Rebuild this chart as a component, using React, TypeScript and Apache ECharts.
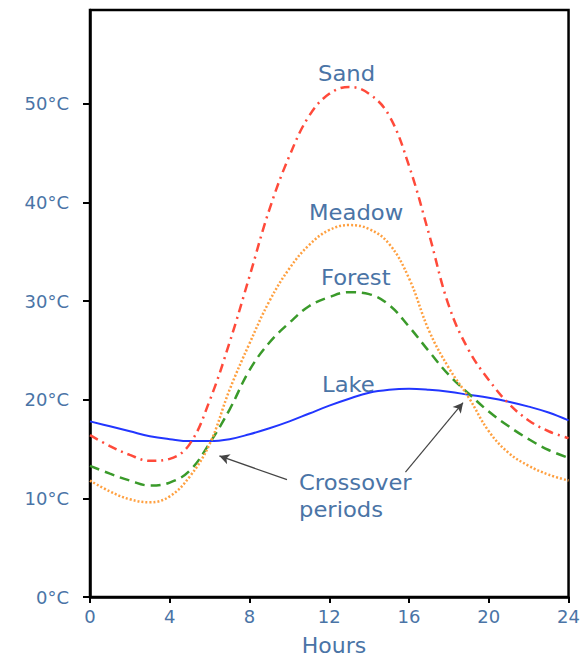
import React, { useEffect, useRef } from "react";
import * as echarts from "echarts";

const hours = [0, 1, 2, 3, 4, 5, 6, 7, 8, 9, 10, 11, 12, 13, 14, 15, 16, 17, 18, 19, 20, 21, 22, 23, 24];
const sand = [16.4, 15.3, 14.4, 13.8, 14.0, 15.5, 19.9, 25.8, 32.5, 39.3, 44.7, 48.8, 51.0, 51.7, 51.0, 48.8, 43.7, 36.8, 29.5, 25.0, 22.0, 19.6, 17.9, 16.8, 16.1];
const meadow = [11.8, 10.7, 9.9, 9.6, 10.2, 12.2, 15.5, 21.0, 25.7, 30.0, 33.3, 35.7, 37.2, 37.7, 37.3, 35.8, 32.3, 27.0, 23.2, 20.2, 16.8, 14.6, 13.3, 12.4, 11.8];
const forest = [13.3, 12.5, 11.8, 11.3, 11.6, 12.8, 15.6, 19.0, 23.0, 25.8, 27.8, 29.5, 30.4, 30.9, 30.7, 29.6, 27.4, 24.9, 22.5, 20.6, 18.8, 17.3, 16.0, 14.9, 14.1];
const lake = [17.8, 17.3, 16.8, 16.3, 16.0, 15.8, 15.8, 16.0, 16.5, 17.1, 17.8, 18.6, 19.4, 20.1, 20.7, 21.0, 21.1, 21.0, 20.8, 20.5, 20.2, 19.8, 19.3, 18.7, 17.9];
const yTicks = [0, 10, 20, 30, 40, 50];
const xTicks = [0, 4, 8, 12, 16, 20, 24];
// arrow annotations: [startHour, startTemp, tipHour, tipTemp]
const arrows = [
  [9.88, 11.9, 6.49, 14.3],
  [15.82, 12.65, 18.71, 19.7],
];

const FONT = "DejaVu Sans";
const LABEL = "#4a74a6";

const pairs = (ys: number[]) => hours.map((h, i) => [h, ys[i]]);

export default function App() {
  const ref = useRef<HTMLDivElement>(null);
  useEffect(() => {
    if (!ref.current) return;
    const chart = echarts.init(ref.current, null, { renderer: "svg" });
    const txt = (text: string, x: number, y: number) => ({
      type: "text",
      x,
      y,
      scaleX: 1.08,
      style: { text, fill: LABEL, font: `21px ${FONT}`, lineHeight: 27 },
    });
    chart.setOption({
      animation: false,
      backgroundColor: "#fff",
      grid: {
        left: 90,
        right: 11,
        top: 10,
        bottom: 59,
        show: true,
        borderColor: "#000",
        borderWidth: 2.5,
        containLabel: false,
      },
      xAxis: {
        type: "value",
        min: 0,
        max: 24,
        interval: 4,
        axisLine: { show: true, lineStyle: { color: "#000", width: 2.5 } },
        axisTick: { show: true, inside: false, length: 6, lineStyle: { color: "#000", width: 2 }, customValues: xTicks },
        axisLabel: { color: LABEL, fontFamily: FONT, fontSize: 18, margin: 10, customValues: xTicks },
        splitLine: { show: false },
      },
      yAxis: {
        type: "value",
        min: 0,
        max: 59.5,
        interval: 10,
        axisLine: { show: true, lineStyle: { color: "#000", width: 2.5 } },
        axisTick: { show: true, inside: false, length: 7, lineStyle: { color: "#000", width: 2 }, customValues: yTicks },
        axisLabel: {
          color: LABEL,
          fontFamily: FONT,
          fontSize: 18,
          margin: 21,
          customValues: yTicks,
          formatter: (v: number) => (v % 10 === 0 ? `${v}°C` : ""),
        },
        splitLine: { show: false },
      },
      series: [
        {
          name: "Sand",
          type: "line",
          data: pairs(sand),
          smooth: 0.4,
          showSymbol: false,
          lineStyle: { color: "#ff4a3a", width: 2.5, type: [9, 5, 2, 5] },
          z: 3,
        },
        {
          name: "Meadow",
          type: "line",
          data: pairs(meadow),
          smooth: 0.4,
          showSymbol: false,
          lineStyle: { color: "#ffa040", width: 2.5, type: [2, 2] },
          z: 4,
        },
        {
          name: "Forest",
          type: "line",
          data: pairs(forest),
          smooth: 0.4,
          showSymbol: false,
          lineStyle: { color: "#3a9a2a", width: 2.5, type: [10, 6] },
          z: 3,
        },
        {
          name: "Lake",
          type: "line",
          data: pairs(lake),
          smooth: 0.4,
          showSymbol: false,
          lineStyle: { color: "#2236ff", width: 2 },
          z: 2,
          markLine: {
            silent: true,
            symbol: ["none", "arrow"],
            symbolSize: [8, 10],
            label: { show: false },
            lineStyle: { color: "#444", width: 1.2, type: "solid" },
            data: arrows.map((a) => [{ coord: [a[0], a[1]] }, { coord: [a[2], a[3]] }]),
          },
        },
      ],
      graphic: [
        txt("Sand", 318, 60),
        txt("Meadow", 309, 199),
        txt("Forest", 321, 264),
        txt("Lake", 322, 371),
        txt("Crossover\nperiods", 299, 469),
        {
          type: "text",
          x: 334,
          y: 645,
          style: {
            text: "Hours",
            fill: LABEL,
            font: `22px ${FONT}`,
            align: "center",
            verticalAlign: "middle",
          },
        },
      ],
    });
    return () => chart.dispose();
  }, []);
  return <div ref={ref} style={{ position: "absolute", left: 0, top: 0, width: 583, height: 656 }} />;
}
